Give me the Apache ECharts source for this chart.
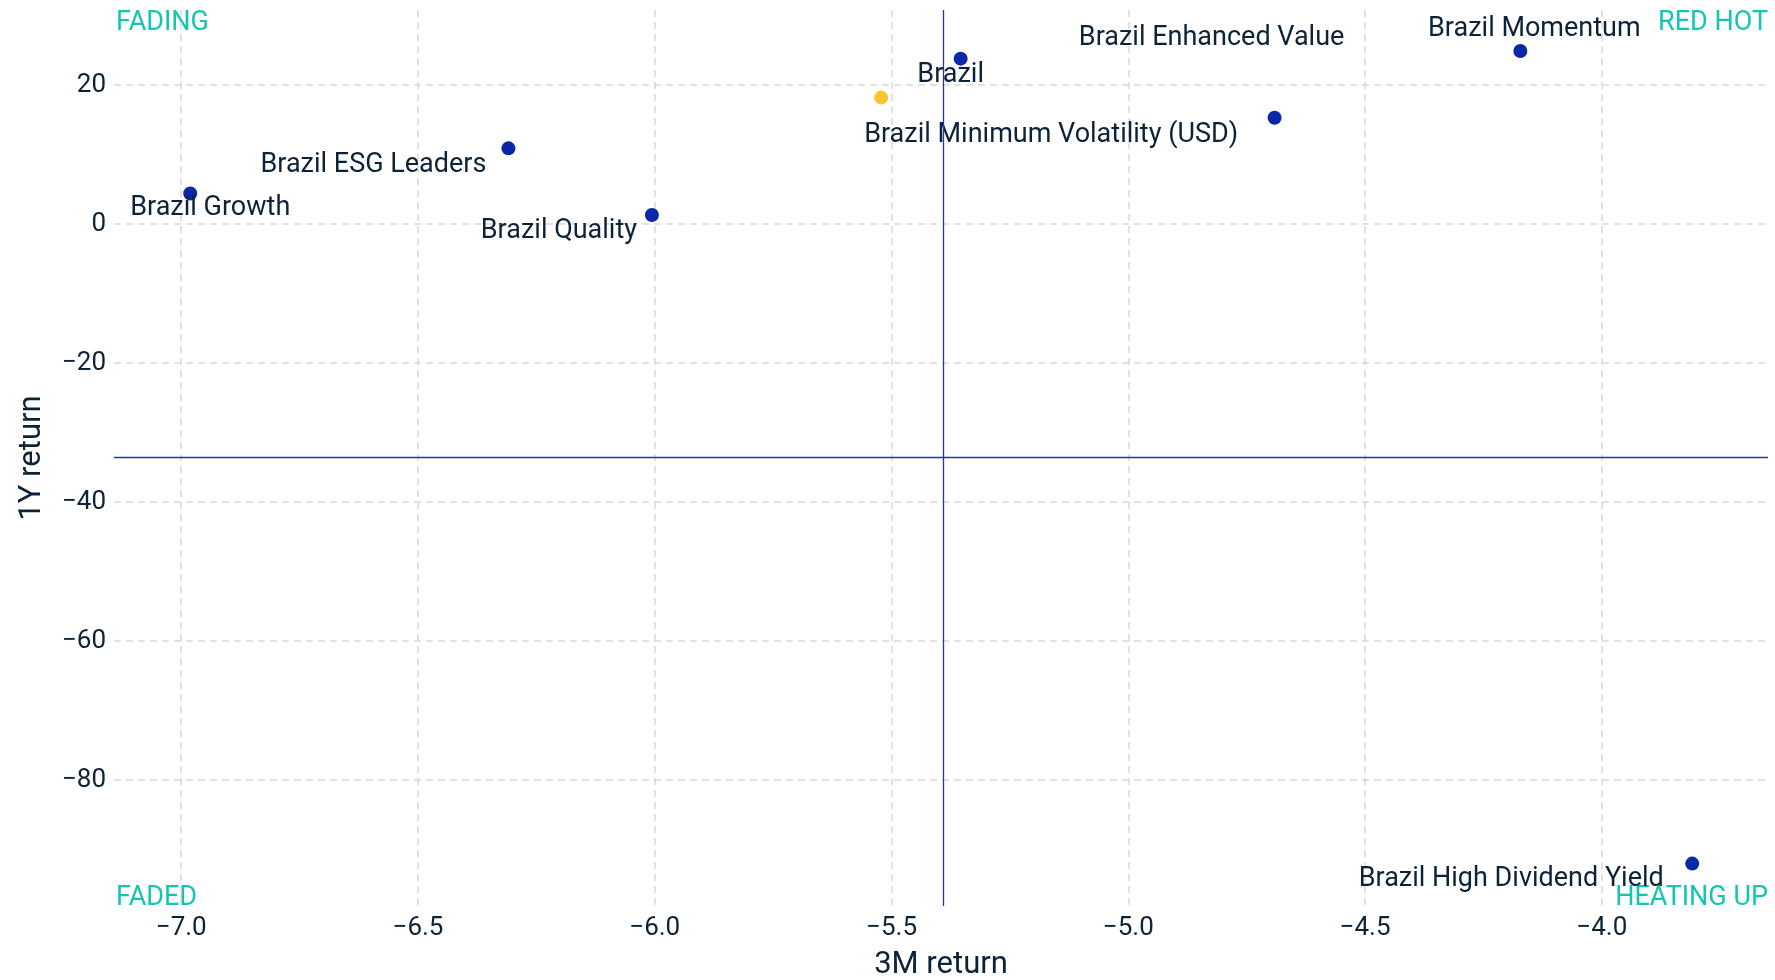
<!DOCTYPE html>
<html>
<head>
<meta charset="utf-8">
<script src="https://cdn.jsdelivr.net/npm/echarts@6/dist/echarts.min.js"></script>
<style>
  html, body { margin: 0; padding: 0; background: #fff; }
  #main { width: 1775px; height: 980px; }
</style>
</head>
<body>
<div id="main"></div>
<script>
// data
const names = ['Brazil Growth', 'Brazil ESG Leaders', 'Brazil Quality', 'Brazil',
  'Brazil Minimum Volatility (USD)', 'Brazil Enhanced Value', 'Brazil Momentum', 'Brazil High Dividend Yield'];
const ret3m = [-6.981, -6.309, -6.006, -5.354, -5.522, -4.691, -4.172, -3.809];
const ret1y = [4.4, 10.9, 1.3, 23.8, 18.2, 15.3, 24.9, -92.0];
const highlighted = 'Brazil Minimum Volatility (USD)';
const quadrants = ['FADING', 'RED HOT', 'FADED', 'HEATING UP'];

// label placement (offset of label centre from the point, px)
const labelOffsets = [[20, 15], [-135, 17], [-93, 16], [-10, 17], [170, 38], [-63, -79], [14, -22], [-181, 16]];

const textColor = '#0c2238';
const teal = '#14c6b2';
const fontFamily = 'Roboto, "Noto Sans", sans-serif';

const midX = (Math.min(...ret3m) + Math.max(...ret3m)) / 2;
const midY = (Math.min(...ret1y) + Math.max(...ret1y)) / 2;

const minus = v => String(v).replace('-', '\u2212');

let myChart = echarts.init(document.getElementById('main'));

const quadText = (text, pos) => ({
  type: 'text',
  ...pos,
  style: { text: text, fill: teal, font: '27px ' + fontFamily }
});

const gridLine = { color: '#d9d9d9', type: [7, 5], width: 1.5 };

myChart.setOption({
  animation: false,
  textStyle: { fontFamily: fontFamily },
  grid: { left: 114, right: 7, top: 10, bottom: 74, outerBoundsMode: 'none' },
  xAxis: {
    type: 'value',
    min: -7.142,
    max: -3.649,
    splitNumber: 7,
    name: '3M return',
    nameLocation: 'middle',
    nameGap: 44,
    nameTextStyle: { fontSize: 31, color: textColor },
    axisLine: { show: false },
    axisTick: { show: false },
    axisLabel: {
      fontSize: 26, color: textColor, margin: 9,
      showMinLabel: false, showMaxLabel: false,
      formatter: v => minus(v.toFixed(1))
    },
    splitLine: { show: true, showMinLine: false, showMaxLine: false, lineStyle: gridLine }
  },
  yAxis: {
    type: 'value',
    min: -98.1,
    max: 30.8,
    splitNumber: 6,
    name: '1Y return',
    nameLocation: 'middle',
    nameGap: 66,
    nameTextStyle: { fontSize: 31, color: textColor },
    axisLine: { show: false },
    axisTick: { show: false },
    axisLabel: {
      fontSize: 26, color: textColor, margin: 8,
      showMinLabel: false, showMaxLabel: false,
      formatter: v => minus(v)
    },
    splitLine: { show: true, showMinLine: false, showMaxLine: false, lineStyle: gridLine }
  },
  graphic: [
    quadText(quadrants[0], { left: 116, top: 10 }),
    quadText(quadrants[1], { right: 7, top: 10 }),
    quadText(quadrants[2], { left: 116, bottom: 68 }),
    quadText(quadrants[3], { right: 7, bottom: 68 })
  ],
  series: [{
    type: 'scatter',
    symbolSize: 14,
    data: names.map((n, i) => ({
      name: n,
      value: [ret3m[i], ret1y[i]],
      itemStyle: { color: n === highlighted ? '#ffc52e' : '#0a27a8', opacity: 1 },
      label: {
        show: true,
        position: 'inside',
        offset: labelOffsets[i],
        formatter: n,
        fontSize: 27,
        color: textColor
      }
    })),
    z: 3,
    markLine: {
      silent: true,
      symbol: ['none', 'none'],
      label: { show: false },
      lineStyle: { color: '#2436ad', type: 'solid', width: 1.3 },
      data: [{ xAxis: midX }, { yAxis: midY }]
    }
  }]
});

window.addEventListener('resize', () => {
  myChart.resize();
});
</script>
</body>
</html>
